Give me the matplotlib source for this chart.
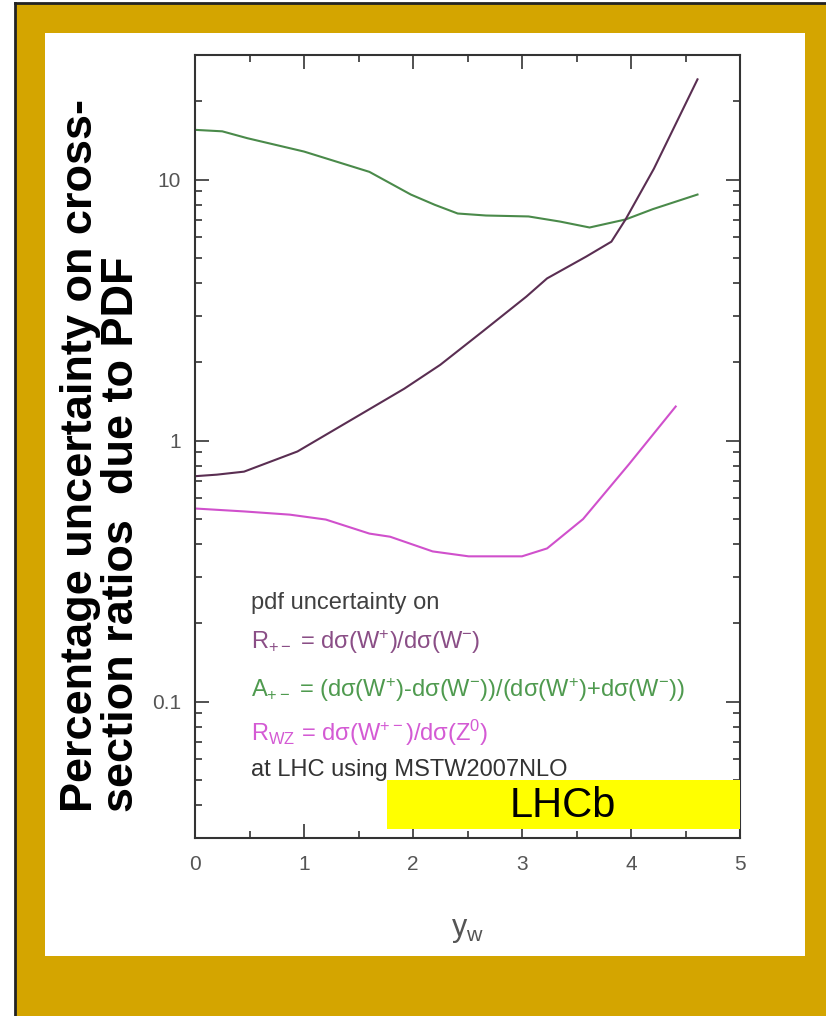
import matplotlib
matplotlib.use('Agg')
import matplotlib.pyplot as plt
from matplotlib.patches import Rectangle
from matplotlib.ticker import LogLocator, MultipleLocator, FixedLocator, FixedFormatter

plt.rcParams['font.family'] = ['Liberation Sans', 'DejaVu Sans']
plt.rcParams['mathtext.fontset'] = 'custom'
plt.rcParams['mathtext.rm'] = 'Liberation Sans'
plt.rcParams['mathtext.it'] = 'Liberation Sans'

# data
green_x = [0, 0.25, 0.48, 1.0, 1.6, 1.98, 2.2, 2.41, 2.67, 3.06, 3.35, 3.62, 3.95, 4.2, 4.61]
green_y = [15.5, 15.3, 14.4, 12.8, 10.7, 8.76, 8.0, 7.41, 7.28, 7.22, 6.9, 6.55, 7.03, 7.7, 8.76]

purple_x = [0, 0.2, 0.45, 0.94, 1.52, 1.92, 2.25, 2.64, 3.04, 3.23, 3.59, 3.82, 3.95, 4.21, 4.61]
purple_y = [0.73, 0.74, 0.76, 0.908, 1.26, 1.58, 1.95, 2.62, 3.56, 4.18, 5.07, 5.78, 7.03, 11.0, 24.2]

magenta_x = [0, 0.45, 0.87, 1.2, 1.6, 1.79, 2.18, 2.51, 3.0, 3.23, 3.56, 3.98, 4.41]
magenta_y = [0.549, 0.535, 0.52, 0.498, 0.44, 0.428, 0.376, 0.36, 0.36, 0.386, 0.50, 0.81, 1.35]

xticks = [0, 1, 2, 3, 4, 5]
yticks = [0.1, 1, 10]
ytick_labels = ['0.1', '1', '10']

legend_lines = [
    ('pdf uncertainty on', '#404040'),
    (r'R$_{+-}$ = dσ(W$^{+}$)/dσ(W$^{-}$)', '#8a4e86'),
    (r'A$_{+-}$ = (dσ(W$^{+}$)-dσ(W$^{-}$))/(dσ(W$^{+}$)+dσ(W$^{-}$))', '#4f9a4f'),
    (r'R$_{WZ}$ = dσ(W$^{+-}$)/dσ(Z$^{0}$)', '#d45ad4'),
    ('at LHC using MSTW2007NLO', '#333333'),
]
legend_y = [603, 642, 690, 733, 770]

W, H = 826, 1016
fig = plt.figure(figsize=(W / 100, H / 100), dpi=100)
fig.patch.set_facecolor('white')

# gold frame + white panel
fig.patches.append(Rectangle((16 / W, 0), 1 - 16 / W, 1 - 4 / H, transform=fig.transFigure,
                             facecolor='#d4a500', edgecolor='none', zorder=0))
fig.lines.append(plt.Line2D([15 / W, 15 / W], [0, 1 - 3 / H], transform=fig.transFigure, color='#222222', lw=2))
fig.lines.append(plt.Line2D([15 / W, 1], [1 - 3 / H, 1 - 3 / H], transform=fig.transFigure, color='#222222', lw=2))
fig.patches.append(Rectangle((45 / W, 1 - 956 / H), 760 / W, 923 / H, transform=fig.transFigure,
                             facecolor='white', edgecolor='none', zorder=1))

ax = fig.add_axes([195 / W, 1 - 838 / H, 545 / W, 783 / H])
ax.set_facecolor('none')
ax.set_zorder(2)

ax.plot(green_x, green_y, color='#4a8a4a', lw=1.5)
ax.plot(purple_x, purple_y, color='#5a2e52', lw=1.5)
ax.plot(magenta_x, magenta_y, color='#d050cc', lw=1.5)

ax.set_yscale('log')
ax.set_xlim(0, 5)
ax.set_ylim(0.03, 30)

ax.xaxis.set_major_locator(FixedLocator(xticks))
ax.xaxis.set_minor_locator(MultipleLocator(0.5))
ax.yaxis.set_major_locator(FixedLocator(yticks))
ax.yaxis.set_major_formatter(FixedFormatter(ytick_labels))
ax.yaxis.set_minor_locator(LogLocator(base=10, subs=range(2, 10)))
ax.yaxis.set_minor_formatter(FixedFormatter([]))

ax.tick_params(which='both', direction='in', top=True, right=True, colors='#333333',
               labelcolor='#555555', labelsize=15, width=1.2)
ax.tick_params(which='major', length=10, pad=12)
ax.tick_params(which='minor', length=5)
ax.tick_params(axis='y', which='major', pad=10)
for s in ax.spines.values():
    s.set_color('#333333')
    s.set_linewidth(1.5)

ax.set_xlabel(r'y$_\mathregular{w}$', fontsize=22, color='#555555', labelpad=30)

# legend block
for (txt, col), py in zip(legend_lines, legend_y):
    ax.text(251 / W, 1 - py / H, txt, transform=fig.transFigure, color=col, fontsize=17,
            ha='left', va='center')

# LHCb box
fig.patches.append(Rectangle((387 / W, 1 - 829 / H), 353 / W, 49 / H, transform=fig.transFigure,
                             facecolor='#ffff00', edgecolor='none', zorder=3))
fig.text(563 / W, 1 - 806 / H, 'LHCb', fontsize=30, color='black', ha='center', va='center', zorder=4)

# y label
fig.text(101 / W, 1 - 812 / H, 'Percentage uncertainty on cross-\nsection ratios  due to PDF',
         rotation=90, ha='center', va='bottom', multialignment='left', fontsize=32.5,
         fontweight='bold', color='black', linespacing=1.0, zorder=4)

fig.savefig('out.png', dpi=100, facecolor=fig.get_facecolor())
